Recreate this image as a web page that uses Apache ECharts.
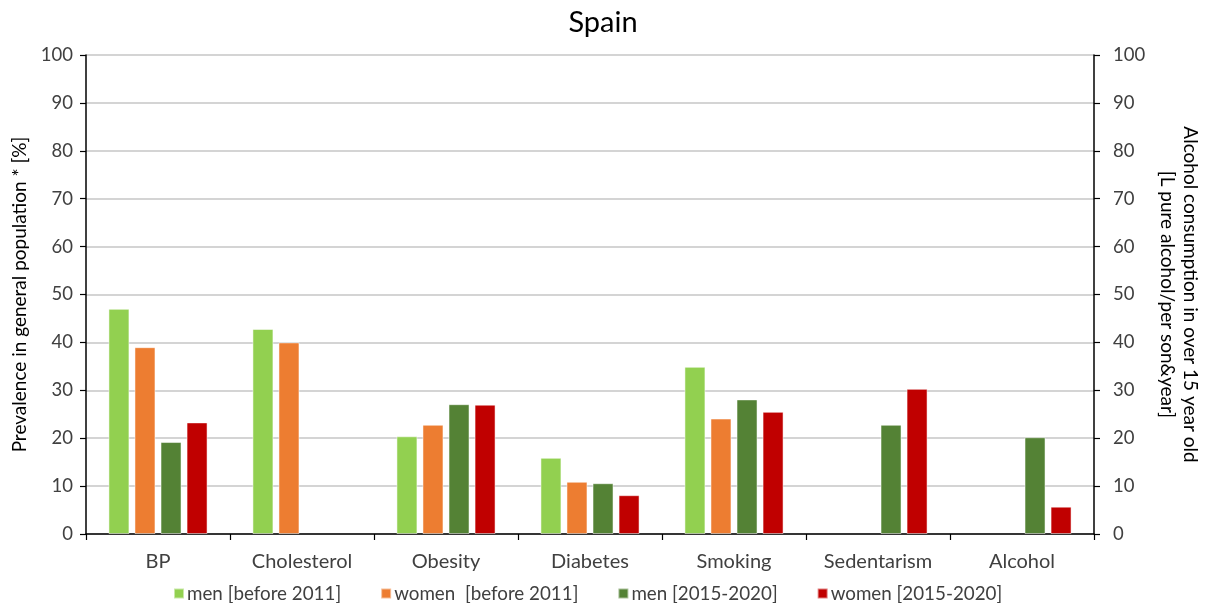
<!DOCTYPE html>
<html>
<head>
<meta charset="utf-8">
<script src="https://cdn.jsdelivr.net/npm/echarts@6/dist/echarts.min.js"></script>
<style>
  html, body { margin: 0; padding: 0; background: #fff; }
  #chart { width: 1206px; height: 603px; }
</style>
</head>
<body>
<div id="chart"></div>
<script>
// Risk factor prevalence in Spain, by sex and period
const categories = ['BP', 'Cholesterol', 'Obesity', 'Diabetes', 'Smoking', 'Sedentarism', 'Alcohol'];
const menBefore2011   = [47.0, 42.8, 20.4, 15.9, 34.9, null, null];
const womenBefore2011 = [39.0, 40.0, 22.8, 10.9, 24.1, null, null];
const men2015_2020    = [19.2, null, 27.1, 10.6, 28.1, 22.8, 20.2];
const women2015_2020  = [23.3, null, 27.0, 8.1, 25.5, 30.3, 5.7];
const seriesNames = ['men [before 2011]', 'women  [before 2011]', 'men [2015-2020]', 'women [2015-2020]'];
const seriesColors = ['#92d050', '#ed7d31', '#548235', '#c00000'];
const seriesData = [menBefore2011, womenBefore2011, men2015_2020, women2015_2020];

const FONT = 'Lato, "Open Sans", sans-serif';
const chart = echarts.init(document.getElementById('chart'));

const valueAxisBase = {
  type: 'value', min: 0, max: 100, interval: 10,
  axisLine: { show: true, lineStyle: { color: '#000', width: 1.5 } },
  axisTick: { show: true, length: 6, lineStyle: { color: '#000', width: 1.2 } },
  nameLocation: 'middle'
};

chart.setOption({
  animation: false,
  title: {
    text: 'Spain', left: 'center', top: 3,
    textStyle: { fontSize: 29, fontWeight: 'normal', color: '#000', fontFamily: FONT }
  },
  legend: {
    top: 579, left: 168,
    itemWidth: 10, itemHeight: 10, itemGap: 39,
    icon: 'rect',
    textStyle: { fontSize: 18.8, color: '#404040', fontFamily: FONT, padding: [0, 0, 0, -2] },
    data: seriesNames
  },
  grid: { left: 86, right: 112, top: 55, bottom: 69, outerBoundsMode: 'none' },
  xAxis: {
    type: 'category', data: categories,
    axisLine: { lineStyle: { color: '#000', width: 1.5 } },
    axisTick: { show: true, length: 6, lineStyle: { color: '#000', width: 1.2 } },
    axisLabel: { color: '#404040', fontSize: 20, margin: 18, fontFamily: FONT }
  },
  yAxis: [
    Object.assign({}, valueAxisBase, {
      position: 'left',
      name: 'Prevalence in general population * [%]',
      nameGap: 57, nameRotate: 90,
      nameTextStyle: { color: '#000', fontSize: 19, fontFamily: FONT },
      axisLabel: { color: '#404040', fontSize: 18.5, margin: 13, fontFamily: FONT },
      splitLine: { show: true, lineStyle: { color: '#c6c6c6', width: 1.5 } }
    }),
    Object.assign({}, valueAxisBase, {
      position: 'right',
      name: 'Alcohol consumption in over 15 year old\n[L pure alcohol/per son&year]',
      nameGap: 57, nameRotate: -90,
      nameTextStyle: { color: '#000', fontSize: 19, fontFamily: FONT, lineHeight: 23 },
      axisLabel: { color: '#404040', fontSize: 18.5, margin: 19, fontFamily: FONT },
      splitLine: { show: false }
    })
  ],
  series: seriesData.map((d, i) => ({
    name: seriesNames[i],
    type: 'bar',
    data: d,
    barWidth: 21,
    barGap: '24%',
    itemStyle: { color: seriesColors[i], borderColor: 'rgba(255,255,255,0.5)', borderWidth: 1 }
  }))
});
</script>
</body>
</html>
